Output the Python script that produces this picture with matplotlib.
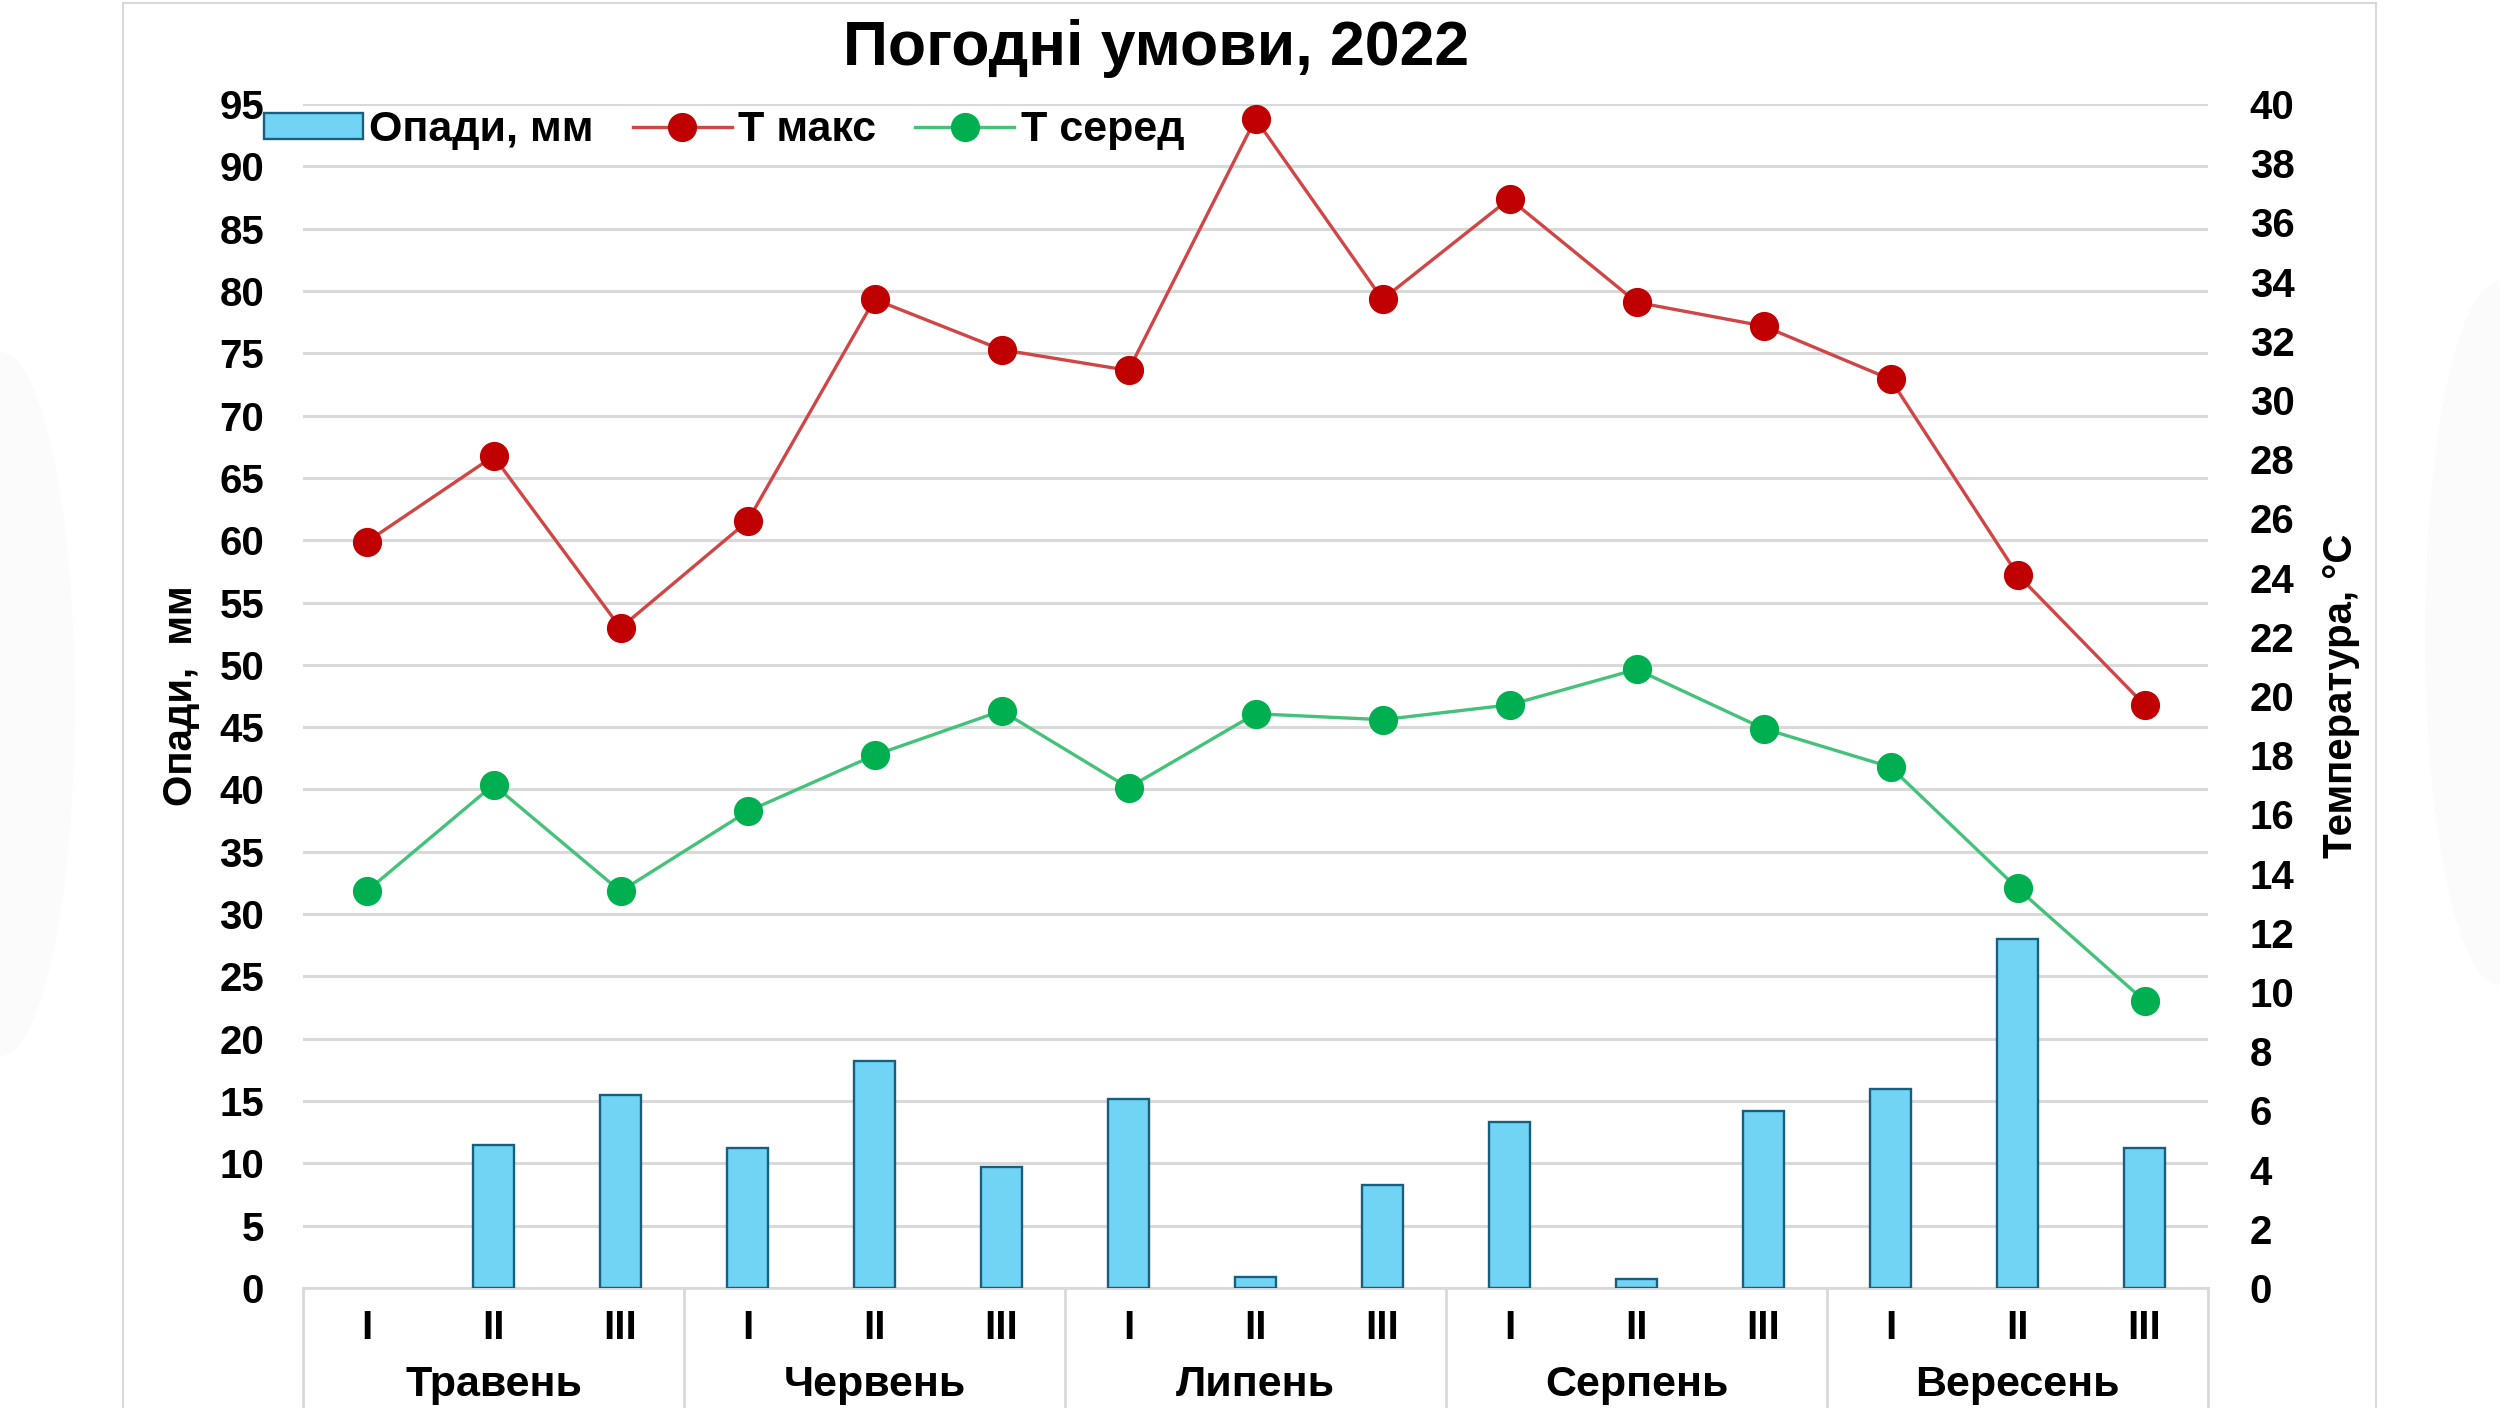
import matplotlib
matplotlib.use("Agg")
import matplotlib.pyplot as plt
from matplotlib.patches import Rectangle, Ellipse, Patch
from matplotlib.transforms import blended_transform_factory

# Дані: декади (I, II, III) по місяцях
misyatsi = ["Травень", "Червень", "Липень", "Серпень", "Вересень"]
dekady = ["I", "II", "III"]
opady = [0.0, 11.5, 15.5, 11.2, 18.2, 9.7, 15.2, 0.9, 8.3, 13.3, 0.7, 14.2, 16.0, 28.0, 11.2]
t_maks = [25.2, 28.1, 22.3, 25.9, 33.4, 31.7, 31.0, 39.5, 33.4, 36.8, 33.3, 32.5, 30.7, 24.1, 19.7]
t_sered = [13.4, 17.0, 13.4, 16.1, 18.0, 19.5, 16.9, 19.4, 19.2, 19.7, 20.9, 18.9, 17.6, 13.5, 9.7]

plt.rcParams["font.family"] = ["Liberation Sans Narrow", "Liberation Sans", "DejaVu Sans"]
plt.rcParams["font.weight"] = "bold"

bar_fill = "#72d4f4"
bar_edge = "#175f7d"

fig = plt.figure(figsize=(25, 14.08), dpi=100)
fig.patch.set_facecolor("white")

# Слабкі тіні по краях та рамка картки
fig.patches.append(Ellipse((0.0, 0.5), 0.06, 0.5, transform=fig.transFigure,
                           facecolor="#fbfbfb", edgecolor="none", zorder=-3))
fig.patches.append(Ellipse((1.0, 0.55), 0.06, 0.5, transform=fig.transFigure,
                           facecolor="#fbfbfb", edgecolor="none", zorder=-3))
fig.patches.append(Rectangle((123 / 2500, -0.01), (2376 - 123) / 2500, 1.008,
                             transform=fig.transFigure, facecolor="white",
                             edgecolor="#d9d9d9", linewidth=1.5, zorder=-2))

ax = fig.add_axes([303 / 2500, 1 - 1288 / 1408, (2208 - 303) / 2500, (1288 - 104) / 1408])
ax.set_facecolor("none")
x = list(range(len(opady)))

bars = ax.bar(x, opady, width=0.32, color=bar_fill, edgecolor=bar_edge,
              linewidth=1.7, zorder=3)
for b, v in zip(bars, opady):
    if v == 0:
        b.set_visible(False)
ax.set_xlim(-0.5, len(opady) - 0.5)
ax.set_ylim(0, 95)
ax.set_yticks(range(0, 96, 5))
ax.grid(axis="y", color="#d9d9d9", linewidth=2.2, zorder=0)
ax.set_axisbelow(True)
ax.tick_params(axis="y", length=0, labelsize=29, pad=28)
ax.set_xticks([])
for s in ["top", "left", "right"]:
    ax.spines[s].set_visible(False)
ax.spines["bottom"].set_color("#d9d9d9")
ax.spines["bottom"].set_linewidth(2)
ax.set_ylabel("Опади,  мм", fontsize=29, fontweight="bold", labelpad=14)

ax2 = ax.twinx()
l_maks, = ax2.plot(x, t_maks, "-o", color="#d04545", markerfacecolor="#c00000",
                   markeredgecolor="#c00000", markersize=20, linewidth=2.4, zorder=4)
l_sered, = ax2.plot(x, t_sered, "-o", color="#45c27a", markerfacecolor="#00b050",
                    markeredgecolor="#00b050", markersize=20, linewidth=2.4, zorder=4)
ax2.set_ylim(0, 40)
ax2.set_yticks(range(0, 41, 2))
ax2.tick_params(axis="y", length=0, labelsize=29, pad=30)
for s in ["top", "left", "right", "bottom"]:
    ax2.spines[s].set_visible(False)
ax2.set_ylabel("Температура, °С", fontsize=29, fontweight="bold", labelpad=20)

# Двоярусні підписи категорій
tr = blended_transform_factory(ax.transData, ax.transAxes)
for i in x:
    ax.text(i, -0.034, dekady[i % 3], transform=tr, ha="center", va="center",
            fontsize=29, fontweight="bold")
for m, name in enumerate(misyatsi):
    ax.text(m * 3 + 1, -0.082, name, transform=tr, ha="center", va="center",
            fontsize=31, fontweight="bold")
for b in range(len(misyatsi) + 1):
    ax.plot([b * 3 - 0.5, b * 3 - 0.5], [0, -0.2], transform=tr, color="#d9d9d9",
            linewidth=2, clip_on=False)

fig.text(1156 / 2500, 1 - 48 / 1408, "Погодні умови, 2022", ha="center", va="center",
         fontsize=45, fontweight="bold")

bar_handle = Patch(facecolor=bar_fill, edgecolor=bar_edge, linewidth=1.7)
fig.legend([bar_handle, l_maks, l_sered], ["Опади, мм", "Т макс", "Т серед"],
           loc="center left", bbox_to_anchor=(264 / 2500, 1 - 130 / 1408),
           ncol=3, frameon=False, fontsize=31, handlelength=2.3, handleheight=0.55,
           handletextpad=0.15, columnspacing=0.9, borderpad=0, borderaxespad=0)

fig.savefig("out.png", dpi=100, facecolor="white")
